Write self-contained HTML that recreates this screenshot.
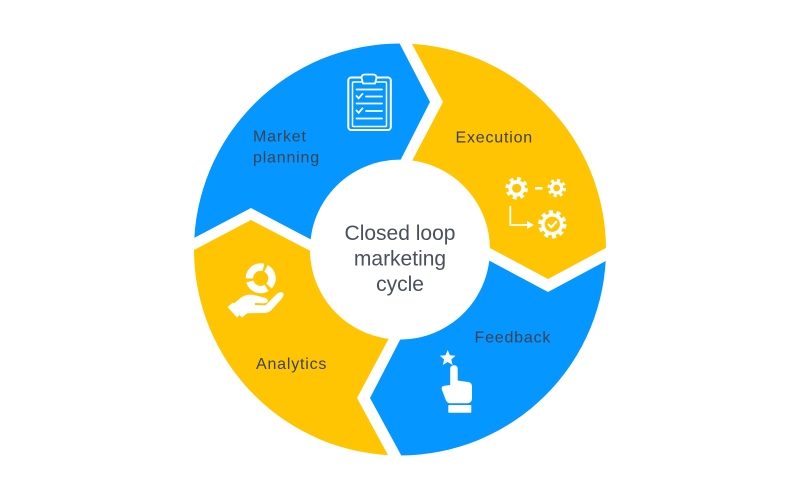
<!DOCTYPE html>
<html>
<head>
<meta charset="utf-8">
<style>
  html,body{margin:0;padding:0;background:#fff;}
  body{width:800px;height:500px;overflow:hidden;}
  svg{display:block;}
  .lbl{font-family:"Liberation Sans",sans-serif;font-size:16px;fill:#3c4350;letter-spacing:0.8px;}
  .ctr{font-family:"Liberation Sans",sans-serif;font-size:21px;fill:#4a505c;}
</style>
</head>
<body>
<svg width="800" height="500" viewBox="0 0 800 500" xmlns="http://www.w3.org/2000/svg">
  <defs>
    <clipPath id="outer">
      <circle cx="400" cy="249.5" r="206"/>
    </clipPath>
  </defs>
  <rect width="800" height="500" fill="#ffffff"/>
  <g clip-path="url(#outer)">
    <!-- Blue top-left -->
    <polygon fill="#0596FF" points="0,0 377,0 430,102 387.8,185 320,244.3 251,208 0,340"/>
    <!-- Yellow top-right -->
    <polygon fill="#FFC402" points="388.5,0 800,0 800,144 548,279 480,242.7 399.4,185 443,102"/>
    <!-- Blue bottom-right -->
    <polygon fill="#0596FF" points="800,157 800,500 425.5,500 370,398 410.3,320 480,255.7 548,292"/>
    <!-- Yellow bottom-left -->
    <polygon fill="#FFC402" points="0,352 251,220 320,256 398.7,320 357,398 412.5,500 0,500"/>
  </g>
  <!-- inner circle -->
  <circle cx="400" cy="249.6" r="90" fill="#ffffff"/>

  <!-- Center text -->
  <text class="ctr" x="400" y="240" text-anchor="middle">Closed loop</text>
  <text class="ctr" x="400" y="265.5" text-anchor="middle">marketing</text>
  <text class="ctr" x="400" y="291" text-anchor="middle">cycle</text>

  <!-- Labels -->
  <text class="lbl" x="253" y="141.7">Market</text>
  <text class="lbl" x="253" y="162.7">planning</text>
  <text class="lbl" x="455.5" y="142.3">Execution</text>
  <text class="lbl" x="474.5" y="342.3">Feedback</text>
  <text class="lbl" x="256" y="369">Analytics</text>

  <!-- Clipboard icon -->
  <g fill="none" stroke="#ffffff">
    <rect x="348.3" y="77.5" width="42.5" height="52.5" rx="3" stroke-width="2"/>
    <rect x="352.5" y="82" width="34" height="44.5" rx="1" stroke-width="1.5"/>
    <path d="M363 83.5 L361.5 78 Q361.5 74.5 365 74.5 L373 74.5 Q376.5 74.5 376.5 78 L375 83.5 Z" fill="#0596FF" stroke-width="1.8"/>
    <g stroke-width="1.8" stroke-linecap="round">
      <line x1="356.5" y1="89.5" x2="382" y2="89.5"/>
      <polyline points="356.5,96 358.7,98.3 362.5,93.8"/>
      <line x1="366" y1="96.5" x2="382" y2="96.5"/>
      <line x1="356.5" y1="103.5" x2="382" y2="103.5"/>
      <polyline points="356.5,110.5 358.7,112.8 362.5,108.3"/>
      <line x1="366" y1="111" x2="382" y2="111"/>
      <line x1="356.5" y1="118.5" x2="382" y2="118.5"/>
    </g>
  </g>

  <!-- Gears icon -->
  <g fill="#ffffff">
    <!-- gear 1 -->
    <circle cx="516.7" cy="188.3" r="8.3"/>
    <circle cx="516.7" cy="188.3" r="9.6" fill="none" stroke="#ffffff" stroke-width="3.4" stroke-dasharray="3.8 3.74"/>
    <circle cx="516.7" cy="188.3" r="4.6" fill="#FFC402"/>
    <!-- dash -->
    <rect x="535" y="187" width="7.5" height="2.6"/>
    <!-- gear 2 -->
    <circle cx="556.7" cy="188" r="6.6"/>
    <circle cx="556.7" cy="188" r="7.8" fill="none" stroke="#ffffff" stroke-width="3" stroke-dasharray="3.1 3.03"/>
    <circle cx="556.7" cy="188" r="3.4" fill="#FFC402"/>
    <!-- gear 3 -->
    <circle cx="552.3" cy="224.3" r="11"/>
    <circle cx="552.3" cy="224.3" r="12.4" fill="none" stroke="#ffffff" stroke-width="3.6" stroke-dasharray="4.2 3.59"/>
    <circle cx="552.3" cy="224.3" r="7.6" fill="#FFC402"/>
    <polyline points="548.5,224.5 551.3,227.3 556.3,221.8" fill="none" stroke="#ffffff" stroke-width="2.2" stroke-linecap="round" stroke-linejoin="round"/>
    <!-- arrow -->
    <path d="M510.3 206 V225 H528" fill="none" stroke="#ffffff" stroke-width="1.8"/>
    <polygon points="527,221 534,225 527,229"/>
  </g>

  <!-- Analytics hand icon -->
  <g fill="#ffffff">
    <circle cx="260.7" cy="278.3" r="11.3" fill="none" stroke="#ffffff" stroke-width="7.4" stroke-dasharray="20.6 3" transform="rotate(-62 260.7 278.3)"/>
    <path d="M231 306 L241 297.5 Q247 293.5 254 295 L265 297.8 Q269.5 299.5 267 302.5 Q265.5 303.5 262 303.3 L255 303 L255 305 L265.5 305.3 L277 293.8 Q281.5 290.5 283.5 293.5 Q284 296 281 299.5 L271.5 310 Q268.5 313 263.5 313 L247.5 313.3 L242 317.5 Z"/>
    <polygon points="227.5,307 233,302.5 242,312.5 237,317.5"/>
  </g>

  <!-- Feedback finger icon -->
  <g fill="#ffffff">
    <polygon points="447.7,350 449.9,355.3 455.6,355.7 451.3,359.4 452.6,365 447.7,362 442.8,365 444.1,359.4 439.8,355.7 445.5,355.3"/>
    <path d="M450.2 385 V369 Q450.2 365.2 454 365.2 Q457.7 365.2 457.7 369 V380.5 L468 382 Q472 382.5 472 386.5 V398 Q472 403.3 466.5 403.3 L450 403.3 Q447.5 403.3 446 400.5 L441.8 389.5 Q441 386 444.5 385.8 Z"/>
    <rect x="448.3" y="405" width="23" height="7.8" rx="0.8"/>
  </g>
</svg>
</body>
</html>
